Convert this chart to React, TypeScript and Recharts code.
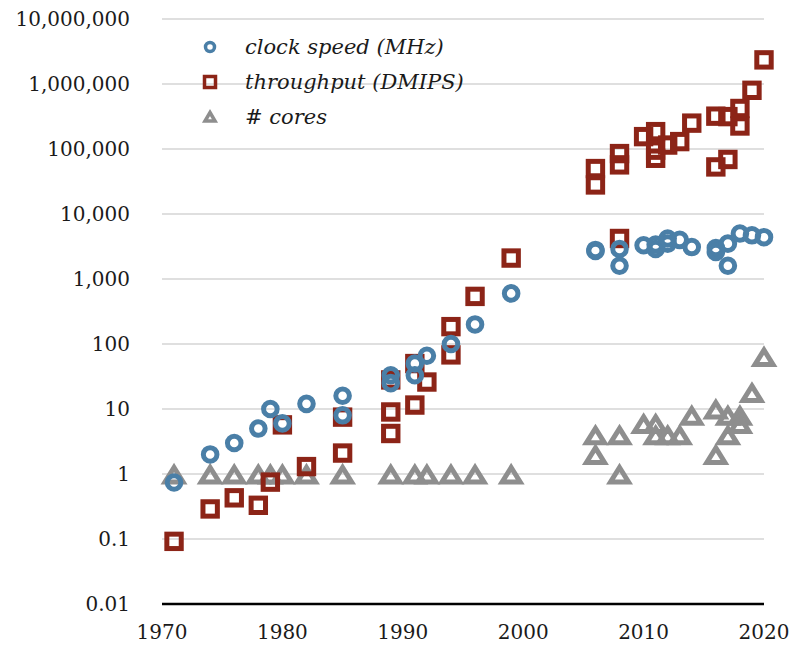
import React from "react"
import {
  CartesianGrid,
  Scatter,
  ScatterChart,
  XAxis,
  YAxis,
} from "recharts"

// clock speed (MHz)
const clockYears = [
  1971, 1974, 1976, 1978, 1979, 1980, 1982, 1985, 1985, 1989, 1989, 1991, 1991, 1992, 1994, 1996, 1999,
  2006, 2006, 2008, 2008, 2010, 2011, 2011, 2012, 2012, 2013, 2014, 2016, 2016, 2017, 2017, 2018, 2019, 2020,
]
const clockValues = [
  0.74, 2, 3, 5, 10, 6, 12, 16, 8, 33, 25, 50, 33, 66, 100, 200, 600,
  2700, 2800, 2900, 1600, 3300, 2900, 3400, 3500, 4200, 4000, 3100, 3000, 2600, 3500, 1600, 5000, 4700, 4400,
]

// throughput (DMIPS)
const throughputYears = [
  1971, 1974, 1976, 1978, 1979, 1980, 1982, 1985, 1985, 1989, 1989, 1989, 1991, 1991, 1992, 1994, 1994, 1996, 1999,
  2006, 2006, 2008, 2008, 2008, 2010, 2011, 2011, 2011, 2012, 2013, 2014, 2016, 2016, 2017, 2017, 2018, 2018, 2019, 2020,
]
const throughputValues = [
  0.092, 0.29, 0.43, 0.33, 0.75, 5.7, 1.3, 2.1, 7.5, 4.2, 9, 28, 11.5, 50, 26, 185, 68, 540, 2100,
  50000, 28000, 85000, 57000, 4200, 155000, 185000, 96000, 72000, 115000, 130000, 250000, 320000, 53000, 315000, 69000,
  420000, 226000, 800000, 2350000,
]

// # cores
const coreYears = [
  1971, 1974, 1976, 1978, 1979, 1980, 1982, 1985, 1989, 1991, 1992, 1994, 1996, 1999,
  2006, 2006, 2008, 2008, 2010, 2011, 2011, 2012, 2013, 2014, 2016, 2016, 2017, 2017, 2018, 2018, 2019, 2020,
]
const coreValues = [
  1, 1, 1, 1, 1, 1, 1, 1, 1, 1, 1, 1, 1, 1,
  4, 2, 4, 1, 6, 6, 4, 4, 4, 8, 10, 2, 8, 4, 8, 6, 18, 64,
]

const xTicks = [1970, 1980, 1990, 2000, 2010, 2020]
const yTicks = [0.01, 0.1, 1, 10, 100, 1000, 10000, 100000, 1000000, 10000000]

const zip = (years: number[], values: number[]) =>
  years.map((year, i) => ({ year, value: values[i] }))

const clockData = zip(clockYears, clockValues)
const throughputData = zip(throughputYears, throughputValues)
const coreData = zip(coreYears, coreValues)

const BLUE = "#4a7fa7"
const RED = "#8c2417"
const GRAY = "#8e8e8e"
const FONT = "'DejaVu Serif', serif"

const Circle = (props: any) => (
  <circle cx={props.cx} cy={props.cy} r={6.8} fill="none" stroke={BLUE} strokeWidth={5} />
)

const Square = (props: any) => (
  <rect x={props.cx - 7.2} y={props.cy - 7.2} width={14.4} height={14.4} fill="none" stroke={RED} strokeWidth={5} />
)

const Triangle = (props: any) => {
  const { cx, cy } = props
  return (
    <path
      d={`M${cx},${cy - 6.5} L${cx + 9},${cy + 8} L${cx - 9},${cy + 8} Z`}
      fill="none"
      stroke={GRAY}
      strokeWidth={5}
    />
  )
}

const legendItems = [
  { name: "clock speed (MHz)", icon: <circle cx={12} cy={12} r={4.5} fill="none" stroke={BLUE} strokeWidth={3.5} /> },
  { name: "throughput (DMIPS)", icon: <rect x={6.5} y={6.5} width={11} height={11} fill="none" stroke={RED} strokeWidth={3.5} /> },
  { name: "# cores", icon: <path d="M12,7.5 L17,16 L7,16 Z" fill="none" stroke={GRAY} strokeWidth={3.5} /> },
]

const LegendBox = () => (
  <div
    style={{
      position: "absolute",
      top: 29,
      left: 198,
      fontFamily: FONT,
      fontStyle: "italic",
      fontSize: 21,
      color: "#1a1a1a",
    }}
  >
    {legendItems.map((item) => (
      <div key={item.name} style={{ display: "flex", alignItems: "center", height: 35 }}>
        <svg width={24} height={24} style={{ marginRight: 23 }}>
          {item.icon}
        </svg>
        <span>{item.name}</span>
      </div>
    ))}
  </div>
)

export default function App() {
  return (
    <div style={{ position: "absolute", left: 0, top: 0, width: 792, height: 650, background: "#fff" }}>
      <ScatterChart width={792} height={650} margin={{ top: 19, right: 28, bottom: 16, left: 0 }}>
        <CartesianGrid vertical={false} stroke="#d4d4d4" strokeWidth={1.5} />
        <XAxis
          type="number"
          dataKey="year"
          domain={[1970, 2020]}
          ticks={xTicks}
          height={30}
          tickLine={false}
          tickSize={0}
          tickMargin={21}
          axisLine={{ stroke: "#000", strokeWidth: 2.5 }}
          tick={{ fill: "#1a1a1a", fontSize: 20, fontFamily: FONT }}
        />
        <YAxis
          type="number"
          dataKey="value"
          scale="log"
          domain={[0.01, 10000000]}
          ticks={yTicks}
          allowDataOverflow
          width={162}
          tickLine={false}
          axisLine={false}
          tickSize={0}
          tickMargin={32}
          tick={{ fill: "#1a1a1a", fontSize: 20, fontFamily: FONT }}
          tickFormatter={(v: number) => v.toLocaleString("en-US")}
        />
        <Scatter name="# cores" data={coreData} shape={Triangle} isAnimationActive={false} />
        <Scatter name="throughput (DMIPS)" data={throughputData} shape={Square} isAnimationActive={false} />
        <Scatter name="clock speed (MHz)" data={clockData} shape={Circle} isAnimationActive={false} />
      </ScatterChart>
      <LegendBox />
    </div>
  )
}
